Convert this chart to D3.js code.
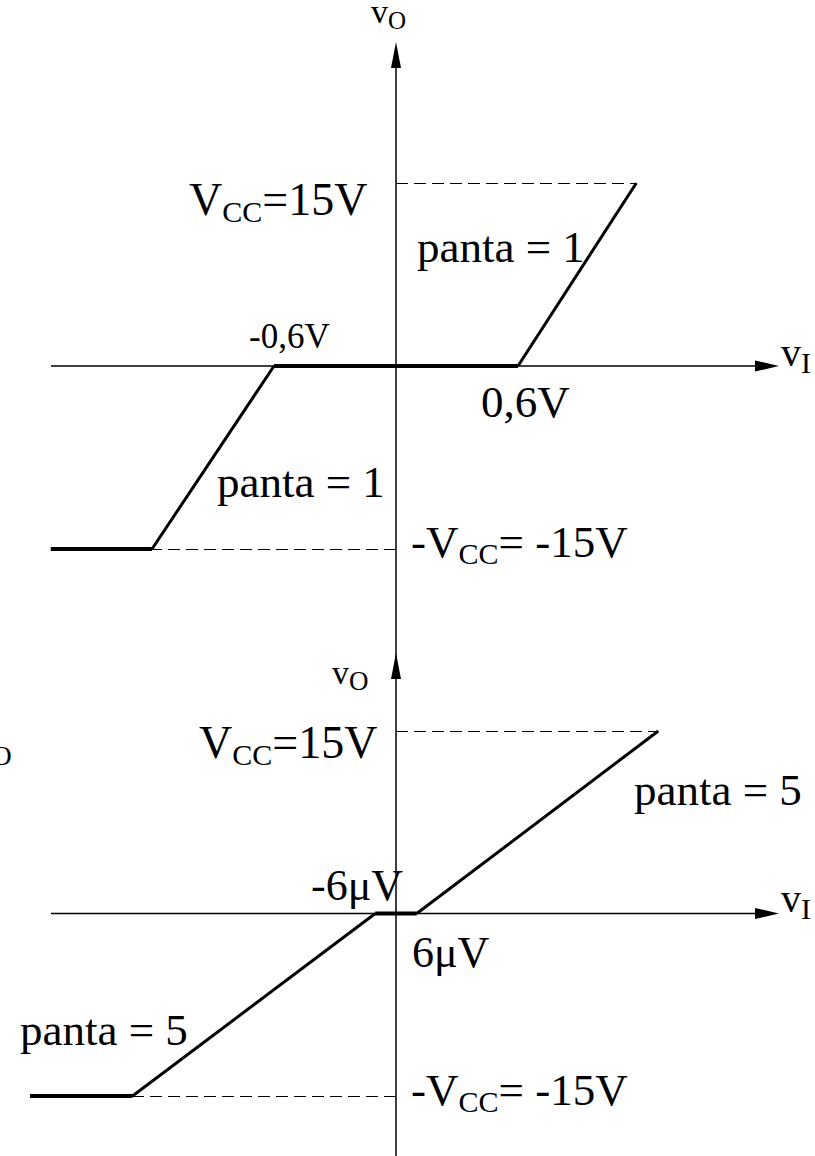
<!DOCTYPE html>
<html><head><meta charset="utf-8">
<script src="https://cdn.jsdelivr.net/npm/d3@7"></script>
<style>body{margin:0;background:#fff}svg{display:block}</style>
</head><body>
<svg id="c" width="815" height="1156"></svg>
<script>
// Transfer characteristics (schematic): vI in drawing units, vO in volts
const topVi = [-28.3, -20, -10, 10, 19.7];
const topVo = [-15, -15, 0, 0, 15];
const botVi = [-30, -21.6, -1.7, 1.7, 21.5];
const botVo = [-15, -15, 0, 0, 15];
const vcc = 15;
const topThresholds = ["-0,6V", "0,6V"];
const botThresholds = ["-6\u03bcV", "6\u03bcV"];
const topSlope = "panta = 1";
const botSlope = "panta = 5";

const svg = d3.select("#c");
const FONT = "'Liberation Serif','Times New Roman',serif";
const x = d3.scaleLinear().domain([-30, 30]).range([396 - 366, 396 + 366]);
const yTop = d3.scaleLinear().domain([-15, 15]).range([549, 183]);
const yBot = d3.scaleLinear().domain([-15, 15]).range([1096, 731]);

// vertical axis (shared)
svg.append("line").attr("x1", x(0)).attr("x2", x(0)).attr("y1", 50).attr("y2", 1156)
  .attr("stroke", "#000").attr("stroke-width", 1.5);

function arrowUp(cx, tipY) {
  svg.append("path").attr("d", `M${cx},${tipY} L${cx - 5},${tipY + 26} L${cx + 5},${tipY + 26} Z`).attr("fill", "#000");
}
function arrowRight(tipX, cy) {
  svg.append("path").attr("d", `M${tipX},${cy} L${tipX - 24},${cy - 5.5} L${tipX - 24},${cy + 5.5} Z`).attr("fill", "#000");
}

function sub(parent, main, subText, after, subSize, dy) {
  parent.append("tspan").text(main);
  parent.append("tspan").text(subText).attr("font-size", subSize).attr("dy", dy);
  if (after) parent.append("tspan").text(after).attr("dy", -dy);
}

function drawDiagram(vi, vo, y, opts) {
  const y0 = y(0);
  // horizontal axis
  svg.append("line").attr("x1", 51).attr("x2", 770).attr("y1", y0).attr("y2", y0)
    .attr("stroke", "#000").attr("stroke-width", 1.5);
  arrowRight(779, y0);
  arrowUp(x(0), opts.vArrowTip);
  // dashed guides
  [1, 4].forEach(i => {
    const yy = Math.round(y(vo[i])) + 0.5;
    svg.append("line").attr("x1", x(0)).attr("x2", x(vi[i])).attr("y1", yy).attr("y2", yy)
      .attr("stroke", "#000").attr("stroke-width", 1).attr("shape-rendering", "crispEdges")
      .attr("stroke-dasharray", "12,6");
  });
  // thick flat segments
  [[0, 1], [2, 3]].forEach(([a, b]) => {
    svg.append("line").attr("x1", x(vi[a])).attr("x2", x(vi[b])).attr("y1", y(vo[a])).attr("y2", y(vo[b]))
      .attr("stroke", "#000").attr("stroke-width", 4);
  });
  // slopes
  [[1, 2], [3, 4]].forEach(([a, b]) => {
    svg.append("line").attr("x1", x(vi[a])).attr("x2", x(vi[b])).attr("y1", y(vo[a])).attr("y2", y(vo[b]))
      .attr("stroke", "#000").attr("stroke-width", 3);
  });
}

drawDiagram(topVi, topVo, yTop, { vArrowTip: 42 });
drawDiagram(botVi, botVo, yBot, { vArrowTip: 653 });

function label(xp, yp, size) {
  return svg.append("text").attr("x", xp).attr("y", yp).attr("font-family", FONT).attr("font-size", size).attr("fill", "#000");
}

// axis labels
sub(label(371, 23, 34), "v", "O", null, 25, 6);
sub(label(781, 366, 40), "v", "I", null, 30, 7);
sub(label(332, 684, 34), "v", "O", null, 27, 6);
sub(label(781, 912, 40), "v", "I", null, 30, 7);
sub(label(-26, 759, 35), "v", "O", null, 28, 6);

// top diagram labels
sub(label(189, 215, 46), "V", "CC", "=" + vcc + "V", 30, 7);
label(417, 262, 45).text(topSlope);
label(249, 348, 35).text(topThresholds[0]);
label(481, 417, 45).text(topThresholds[1]);
label(217, 497, 45).text(topSlope);
sub(label(411, 557, 45), "-V", "CC", "= -" + vcc + "V", 30, 7);

// bottom diagram labels
sub(label(199, 758, 46), "V", "CC", "=" + vcc + "V", 30, 7);
label(634, 805, 45).text(botSlope);
label(311, 900, 44).text(botThresholds[0]);
label(412, 967, 44).text(botThresholds[1]);
label(20, 1045, 45).text(botSlope);
sub(label(411, 1105, 45), "-V", "CC", "= -" + vcc + "V", 30, 7);
</script>
</body></html>
